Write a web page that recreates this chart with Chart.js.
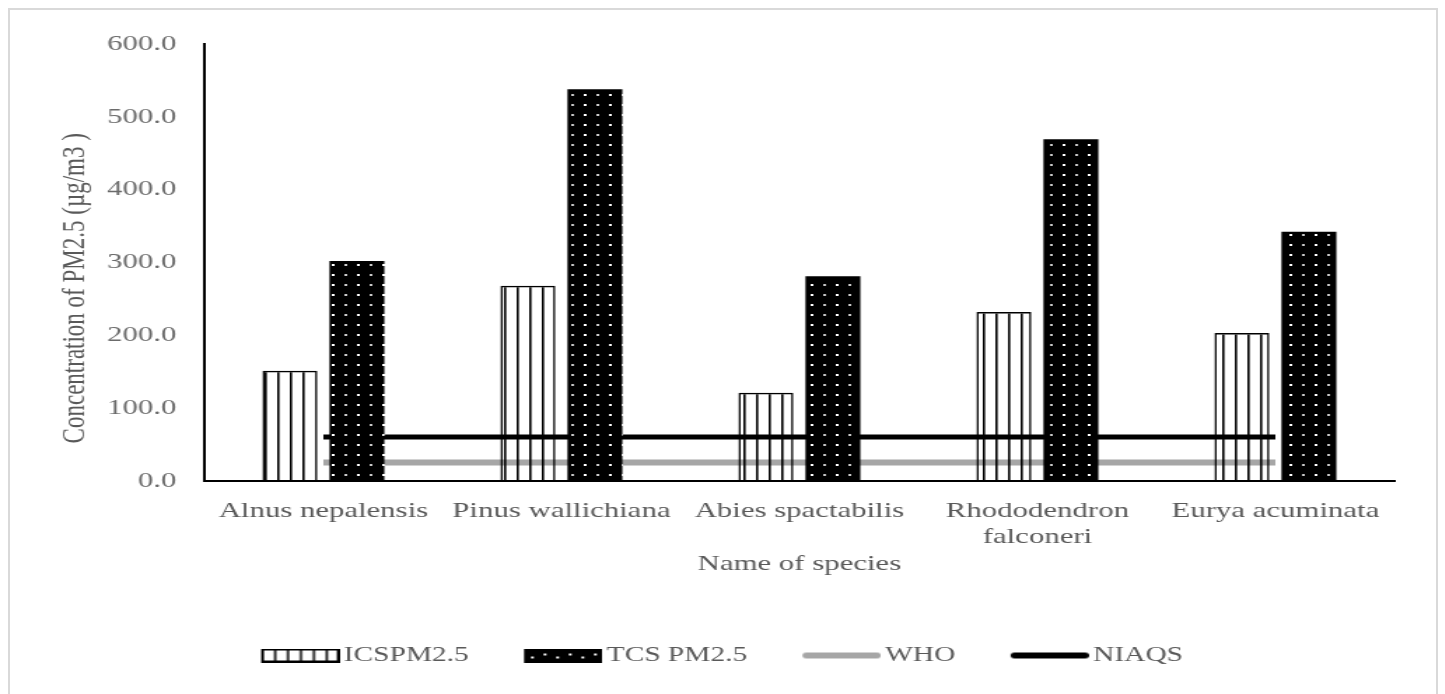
<!DOCTYPE html>
<html lang="en">
<head>
<meta charset="UTF-8">
<meta name="viewport" content="width=device-width, initial-scale=1.0">
<title>PM2.5 concentration by species</title>
<script src="https://cdn.jsdelivr.net/npm/chart.js"></script>
<style>
    html, body {
        margin: 0;
        padding: 0;
        background: #fff;
        overflow: hidden;
    }
    .frame {
        position: absolute;
        left: 8px;
        top: 8px;
        width: 1430px;
        height: 720px;
        border: 2px solid #d9d9d9;
        box-sizing: border-box;
    }
    /* the source picture is stretched sideways, so draw narrow and scale it out */
    .chart-box {
        position: absolute;
        left: 0;
        top: 0;
        width: 1032px;
        height: 694px;
        transform: scaleX(1.4);
        transform-origin: 0 0;
    }
</style>
</head>
<body>
<div class="frame"></div>
<div class="chart-box">
    <canvas id="pmChart"></canvas>
</div>

<script>
    var species = ['Alnus nepalensis', 'Pinus wallichiana', 'Abies spactabilis', ['Rhododendron', 'falconeri'], 'Eurya acuminata'];
    var icsValues = [151, 268, 121, 232, 203];
    var tcsValues = [302, 538, 281, 469, 342];
    var whoValues = [25, 25, 25, 25, 25];
    var niaqsValues = [60, 60, 60, 60, 60];
    var yTicks = [0, 100, 200, 300, 400, 500, 600];

    var serif = 'Liberation Serif, Times New Roman, serif';
    var textGrey = '#595959';

    // vertical stripes, see-through between lines
    function stripePattern() {
        var c = document.createElement('canvas');
        c.width = 9; c.height = 10;
        var g = c.getContext('2d');
        g.fillStyle = '#000';
        g.fillRect(0, 0, 1.6, 10);
        return g.createPattern(c, 'repeat');
    }

    // black with small white dots
    function dotPattern() {
        var c = document.createElement('canvas');
        c.width = 18; c.height = 10;
        var g = c.getContext('2d');
        g.fillStyle = '#000';
        g.fillRect(0, 0, 18, 10);
        g.fillStyle = '#fff';
        g.fillRect(3, 4, 2, 2);
        g.fillStyle = '#c8c8c8';
        g.fillRect(12, 4, 2, 2);
        return g.createPattern(c, 'repeat');
    }

    // legend swatch: 63px image, swatch drawn in the right 56px so it sits close to the text
    function legendImage(kind) {
        var c = document.createElement('canvas');
        c.width = 63; c.height = 14;
        var g = c.getContext('2d');
        g.translate(7, 0);
        if (kind === 'ics') {
            g.fillStyle = '#fff';
            g.fillRect(0, 0, 56, 14);
            g.fillStyle = '#000';
            for (var x = 0; x < 56; x += 9.2) g.fillRect(x, 0, 1.6, 14);
            g.strokeStyle = '#000';
            g.lineWidth = 2;
            g.strokeRect(1, 1, 54, 12);
        } else if (kind === 'tcs') {
            g.fillStyle = '#000';
            g.fillRect(0, 0, 56, 14);
            g.fillStyle = '#fff';
            for (var i = 0; i < 6; i++) g.fillRect(5 + i * 9, i % 2 ? 5 : 8, 2, 2);
        } else {
            g.strokeStyle = kind === 'who' ? '#a6a6a6' : '#000';
            g.lineWidth = 6;
            g.lineCap = 'round';
            g.beginPath();
            g.moveTo(3, 7);
            g.lineTo(53, 7);
            g.stroke();
        }
        return c;
    }

    var legendImages = [legendImage('ics'), legendImage('tcs'), legendImage('who'), legendImage('niaqs')];

    var ctx = document.getElementById('pmChart').getContext('2d');
    var chart = new Chart(ctx, {
        data: {
            labels: species,
            datasets: [
                {
                    type: 'bar',
                    label: 'ICSPM2.5',
                    data: icsValues,
                    backgroundColor: stripePattern(),
                    borderColor: '#000',
                    borderWidth: 1.5,
                    barPercentage: 0.82,
                    categoryPercentage: 0.563,
                    order: 1
                },
                {
                    type: 'bar',
                    label: 'TCS PM2.5',
                    data: tcsValues,
                    backgroundColor: dotPattern(),
                    borderColor: '#000',
                    borderWidth: 0,
                    barPercentage: 0.82,
                    categoryPercentage: 0.563,
                    order: 1
                },
                {
                    type: 'line',
                    label: 'WHO',
                    data: whoValues,
                    borderColor: '#a6a6a6',
                    borderWidth: 6,
                    pointRadius: 0,
                    fill: false,
                    order: 2
                },
                {
                    type: 'line',
                    label: 'NIAQS',
                    data: niaqsValues,
                    borderColor: '#000',
                    borderWidth: 5,
                    pointRadius: 0,
                    fill: false,
                    order: 2
                }
            ]
        },
        options: {
            responsive: true,
            maintainAspectRatio: false,
            animation: false,
            layout: {
                padding: { top: 44, left: 36, right: 36, bottom: 18 }
            },
            scales: {
                x: {
                    offset: true,
                    grid: { display: false, drawTicks: false },
                    border: { display: true, color: '#000', width: 2 },
                    ticks: {
                        color: textGrey,
                        font: { family: serif, size: 22 },
                        padding: 17,
                        maxRotation: 0,
                        autoSkip: false
                    },
                    title: {
                        display: true,
                        text: 'Name of species',
                        color: textGrey,
                        font: { family: serif, size: 22 },
                        padding: { top: -17, bottom: 28 }
                    }
                },
                y: {
                    min: 0,
                    max: 600,
                    afterFit: function(scale) { scale.width = 110; },
                    afterBuildTicks: function(scale) {
                        scale.ticks = yTicks.map(function(v) { return { value: v }; });
                    },
                    grid: { display: false, drawTicks: false },
                    border: { display: true, color: '#000', width: 2 },
                    ticks: {
                        color: '#6b6b6b',
                        font: { family: serif, size: 22 },
                        padding: 20,
                        callback: function(value) { return value.toFixed(1); }
                    },
                    title: {
                        display: true,
                        // trailing no-break spaces push the title a little below the middle, as in the original
                        text: 'Concentration of PM2.5 (µg/m3 )' + '\u00a0'.repeat(9),
                        color: textGrey,
                        font: { family: serif, size: 23 },
                        padding: { top: 4, bottom: 0 }
                    }
                }
            },
            plugins: {
                tooltip: { enabled: false },
                legend: {
                    position: 'bottom',
                    labels: {
                        usePointStyle: true,
                        pointStyleWidth: 48,
                        boxHeight: 14,
                        padding: 40,
                        color: textGrey,
                        font: { family: serif, size: 21 },
                        generateLabels: function(chart) {
                            return chart.data.datasets.map(function(ds, i) {
                                return {
                                    text: ds.label,
                                    pointStyle: legendImages[i],
                                    fontColor: textGrey,
                                    hidden: false,
                                    datasetIndex: i,
                                    lineWidth: 0
                                };
                            });
                        }
                    }
                }
            }
        }
    });
</script>
</body>
</html>
